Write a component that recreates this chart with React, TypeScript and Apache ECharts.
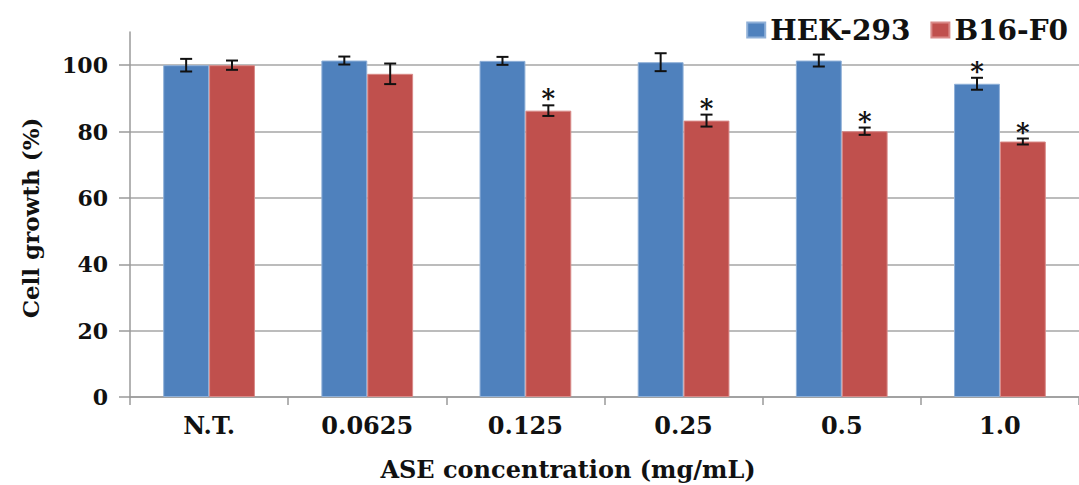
import React, { useEffect, useRef } from "react";
import * as echarts from "echarts";

const categories = ["N.T.", "0.0625", "0.125", "0.25", "0.5", "1.0"];
const hekValues = [100, 101.4, 101.3, 100.9, 101.4, 94.4];
const hekErrors = [1.9, 1.2, 1.2, 2.7, 1.8, 1.8];
const hekSignificant = [false, false, false, false, false, true];
const b16Values = [100, 97.4, 86.3, 83.3, 80.1, 77.0];
const b16Errors = [1.4, 3.1, 1.6, 1.8, 1.1, 0.9];
const b16Significant = [false, false, true, true, true, true];
const yTicks = [0, 20, 40, 60, 80, 100];

const FONT = "DejaVu Serif";
const BLUE = "#4F81BD";
const RED = "#C0504D";
const CAT_GAP = 0.42;

function errorSeries(values: number[], errors: number[], sig: boolean[], sign: number) {
  return {
    type: "custom",
    z: 10,
    clip: false,
    silent: true,
    data: values.map((v, i) => [i, v, errors[i], sig[i] ? 1 : 0]),
    renderItem: (params: any, api: any) => {
      const idx = api.value(0);
      const val = api.value(1);
      const err = api.value(2);
      const s = api.value(3);
      const band = api.size([1, 0])[0];
      const barW = (band * (1 - CAT_GAP)) / 2;
      const c = api.coord([idx, val]);
      const x = c[0] + (sign * barW) / 2;
      const top = api.coord([idx, val + err])[1];
      const bot = api.coord([idx, val - err])[1];
      const st = { stroke: "#111", lineWidth: 2 };
      const children: any[] = [
        { type: "line", shape: { x1: x, y1: top, x2: x, y2: bot }, style: st },
        { type: "line", shape: { x1: x - 6, y1: top, x2: x + 6, y2: top }, style: st },
        { type: "line", shape: { x1: x - 6, y1: bot, x2: x + 6, y2: bot }, style: st },
      ];
      if (s) {
        children.push({
          type: "text",
          style: {
            text: "*",
            x: x,
            y: top - 7,
            textAlign: "center",
            textVerticalAlign: "middle",
            fontFamily: FONT,
            fontWeight: "bold",
            fontSize: 26,
            fill: "#111",
          },
        });
      }
      return { type: "group", children };
    },
  };
}

export default function App() {
  const ref = useRef<HTMLDivElement>(null);
  useEffect(() => {
    if (!ref.current) return;
    const chart = echarts.init(ref.current, null, { renderer: "svg" });
    chart.setOption({
      animation: false,
      backgroundColor: "#ffffff",
      grid: { left: 130, top: 32, width: 966, height: 365 },
      legend: {
        data: ["HEK-293", "B16-F0"],
        right: 6,
        top: 11,
        icon: "rect",
        itemWidth: 18,
        itemHeight: 15,
        itemGap: 20,
        textStyle: { fontFamily: FONT, fontWeight: "bold", fontSize: 28, color: "#111" },
      },
      xAxis: {
        type: "category",
        data: categories,
        axisLine: { lineStyle: { color: "#9a9a9a", width: 1.5 } },
        axisTick: { show: true, length: 8, lineStyle: { color: "#9a9a9a", width: 1.5 } },
        axisLabel: {
          margin: 16,
          fontFamily: FONT,
          fontWeight: "bold",
          fontSize: 24,
          color: "#111",
        },
      },
      yAxis: {
        type: "value",
        min: 0,
        max: 110,
        interval: 20,
        axisLine: { show: true, lineStyle: { color: "#9a9a9a", width: 1.5 } },
        axisTick: {
          show: true,
          length: 11,
          customValues: yTicks,
          lineStyle: { color: "#9a9a9a", width: 1.5 },
        },
        axisLabel: {
          margin: 22,
          customValues: yTicks,
          fontFamily: FONT,
          fontWeight: "bold",
          fontSize: 22,
          color: "#111",
        },
        splitLine: {
          show: true,
          lineStyle: { color: "#a6a6a6", width: 1.5 },
        },
      },
      graphic: [
        {
          type: "text",
          x: 30,
          y: 218,
          rotation: Math.PI / 2,
          style: {
            text: "Cell growth (%)",
            textAlign: "center",
            textVerticalAlign: "middle",
            fontFamily: FONT,
            fontWeight: "bold",
            fontSize: 23,
            fill: "#111",
          },
        },
        {
          type: "text",
          x: 568,
          y: 469,
          style: {
            text: "ASE concentration (mg/mL)",
            textAlign: "center",
            textVerticalAlign: "middle",
            fontFamily: FONT,
            fontWeight: "bold",
            fontSize: 24,
            fill: "#111",
          },
        },
      ],
      series: [
        {
          name: "HEK-293",
          type: "bar",
          data: hekValues,
          barGap: "0%",
          barCategoryGap: CAT_GAP * 100 + "%",
          itemStyle: { color: BLUE, borderColor: "#8fb0d8", borderWidth: 1 },
        },
        {
          name: "B16-F0",
          type: "bar",
          data: b16Values,
          barGap: "0%",
          barCategoryGap: CAT_GAP * 100 + "%",
          itemStyle: { color: RED, borderColor: "#d98a88", borderWidth: 1 },
        },
        errorSeries(hekValues, hekErrors, hekSignificant, -1),
        errorSeries(b16Values, b16Errors, b16Significant, 1),
      ],
    });
    return () => chart.dispose();
  }, []);
  return (
    <div
      ref={ref}
      style={{ position: "fixed", left: 0, top: 0, width: 1079, height: 485 }}
    />
  );
}
